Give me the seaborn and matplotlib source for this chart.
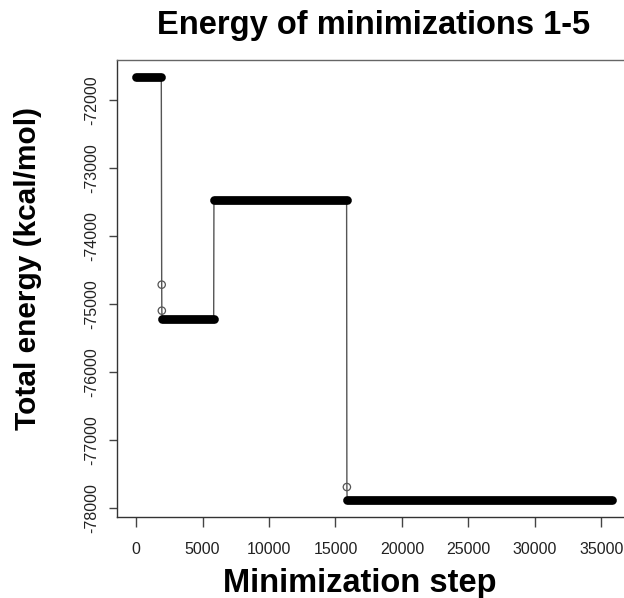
import numpy as np
import pandas as pd
import matplotlib
matplotlib.use("Agg")
import matplotlib.pyplot as plt
import seaborn as sns

# ---- data ----
seg_start = [0, 1960, 5860, 15880]
seg_end = [1900, 5840, 15840, 35800]
seg_energy = [-71656, -75215, -73475, -77885]

# full trace vertices (thin connecting line)
path_step = [0, 1900, 1930, 1940, 1960, 5840, 5860, 15840, 15860, 15880, 35800]
path_energy = [-71656, -71656, -74714, -75097, -75215, -75215, -73475, -73475,
               -77693, -77885, -77885]

# isolated transition points (open circles)
trans_step = [1930, 1940, 15860]
trans_energy = [-74714, -75097, -77693]

x_ticks = [0, 5000, 10000, 15000, 20000, 25000, 30000, 35000]
y_ticks = [-78000, -77000, -76000, -75000, -74000, -73000, -72000]

title = "Energy of minimizations 1-5"
xlabel = "Minimization step"
ylabel = "Total energy (kcal/mol)"

# ---- plotting ----
sns.set_theme(style="white")
plt.rcParams["font.family"] = ["Liberation Sans", "DejaVu Sans"]

W, H = 624, 598
fig = plt.figure(figsize=(W / 100, H / 100), dpi=100)
left_px, right_px, top_px, bottom_px = 117, 631, 60, 517
ax = fig.add_axes([left_px / W, 1 - bottom_px / H,
                   (right_px - left_px) / W, (bottom_px - top_px) / H])

seg_df = pd.DataFrame({
    "step": seg_start + seg_end,
    "energy": seg_energy + seg_energy,
    "seg": list(range(len(seg_start))) * 2,
})
path_df = pd.DataFrame({"step": path_step, "energy": path_energy})
trans_df = pd.DataFrame({"step": trans_step, "energy": trans_energy})

sns.lineplot(data=path_df, x="step", y="energy", sort=False, estimator=None,
             color="#555555", linewidth=1.0, ax=ax)
sns.lineplot(data=seg_df, x="step", y="energy", units="seg", estimator=None,
             color="black", linewidth=6.3, solid_capstyle="round", ax=ax)
sns.scatterplot(data=trans_df, x="step", y="energy", marker="o", s=28,
                facecolor="none", edgecolor="#555555", linewidth=0.9, ax=ax)

xr = max(seg_end) - min(seg_start)
yr = max(seg_energy) - min(seg_energy)
ax.set_xlim(min(seg_start) - 0.04 * xr, max(seg_end) + 0.04 * xr)
ax.set_ylim(min(seg_energy) - 0.04 * yr, max(seg_energy) + 0.04 * yr)

ax.set_xticks(x_ticks)
ax.set_xticklabels([str(t) for t in x_ticks], fontsize=11.5, color="#222222")
ax.set_yticks(y_ticks)
ax.set_yticklabels([str(t) for t in y_ticks], fontsize=11.5, color="#222222",
                   rotation=90, va="center")
ax.tick_params(axis="x", direction="out", length=7, width=1, color="#444444",
               pad=11, bottom=True)
ax.tick_params(axis="y", direction="out", length=6, width=1, color="#444444",
               pad=7, left=True)

for s in ax.spines.values():
    s.set_color("#666666")
    s.set_linewidth(1.0)
ax.spines["left"].set_color("#333333")
ax.spines["bottom"].set_color("#333333")

ax.set_title(title, fontsize=23.5, fontweight="bold", pad=19, color="black")
ax.set_xlabel(xlabel, fontsize=23.5, fontweight="bold", va="baseline", color="black")
ax.xaxis.set_label_coords((360 - left_px) / (right_px - left_px),
                          (bottom_px - 592) / (bottom_px - top_px))
ax.set_ylabel(ylabel, fontsize=21.5, fontweight="bold", va="baseline", color="black")
ax.yaxis.set_label_coords((36 - left_px) / (right_px - left_px),
                          (bottom_px - 269) / (bottom_px - top_px))

fig.savefig("out.png", dpi=100)
